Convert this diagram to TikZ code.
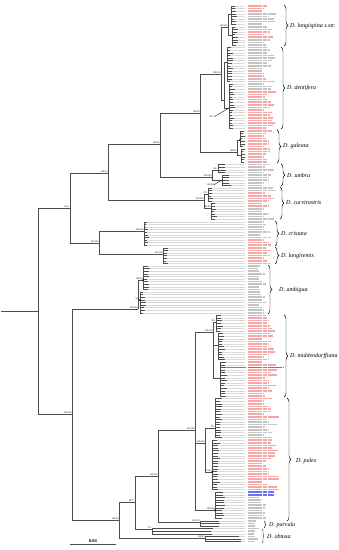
\documentclass[tikz,border=0pt]{standalone}
\usepackage{fontspec}
\setmainfont{Liberation Serif}
\usepackage{xcolor}
\usepackage{tikz}
\usetikzlibrary{decorations.pathreplacing}
\definecolor{Branch}{HTML}{4E4E4E}
\definecolor{TipRed}{HTML}{F5A6A6}
\definecolor{TipGrey}{HTML}{C4C4C4}
\definecolor{TipBlue}{HTML}{6A74E8}
\definecolor{Leader}{HTML}{DADADA}

% tips hanging from one internal node: parent, tip x, first row, last row, prefix
\newcommand{\tipset}[5]{%
  \foreach \tipk in {#3,...,#4}{%
    \pgfmathsetmacro{\tipy}{6+2.6*\tipk}%
    \pgfmathsetmacro{\tipx}{#2+3*rnd}%
    \coordinate (#5-\tipk) at (\tipx,\tipy);
    \draw[leader] (#5-\tipk) -- (245,\tipy);
    \draw[branch] (#1) |- (#5-\tipk);
  }}
% one bar per tip label: colour, first row, last row, base length, spread
\newcommand{\labelbars}[5]{%
  \foreach \lbk in {#2,...,#3}{%
    \pgfmathsetmacro{\lby}{6+2.6*\lbk}%
    \pgfmathsetmacro{\lbl}{#4+#5*rnd}%
    \draw[tiplabel, draw=#1] (248,\lby) -- ++(\lbl,0);
  }}

\begin{document}
\begin{tikzpicture}[
  x=1pt, y=-1pt,
  branch/.style={draw=Branch, line width=.42pt},
  leader/.style={draw=Leader, line width=.3pt},
  tiplabel/.style={line width=1.5pt, dash pattern=on 4.5pt off .6pt on 9pt off .6pt},
  pointer/.style={draw=black, line width=.35pt},
  support/.style={font=\fontsize{2.4}{2.7}\selectfont, inner sep=.3pt, anchor=south east},
  clade/.style={decorate, decoration={brace, amplitude=4pt}, draw=black, line width=.45pt},
  smallclade/.style={decorate, decoration={brace, amplitude=2pt}, draw=black, line width=.4pt},
  cladename/.style={font=\fontsize{6}{7}\selectfont\itshape, anchor=west, inner sep=0pt},
  dot/.style={circle, fill=black, inner sep=0pt, minimum size=1.7pt}
]
\pgfmathsetseed{2718}
\useasboundingbox (0,0) rectangle (339,550);

% Backbone nodes (x = depth, y = row where the stem enters).
\coordinate (root) at (1,311);
\coordinate (n38) at (38,311);
\coordinate (n70) at (70,208);
\coordinate (n108) at (108,173);
\coordinate (n160) at (160,144);
\coordinate (n200) at (200,113);
\coordinate (n221) at (221,74);
\coordinate (n99) at (99,243);
\coordinate (n72) at (72,414);
\coordinate (n119) at (119,520);
\coordinate (n135) at (135,502);
\coordinate (n158) at (158,476);
\coordinate (n195) at (195,430);

% Clade crowns.
\coordinate (lsp) at (228,27);  \coordinate (lspA) at (231,14);  \coordinate (lspB) at (232,35);
\coordinate (den) at (224,100); \coordinate (denA) at (227,62);  \coordinate (denB) at (229,108);
\coordinate (gal) at (237,152); \coordinate (galA) at (240,140); \coordinate (galB) at (241,155);
\coordinate (umb) at (212,177); \coordinate (umbA) at (218,170); \coordinate (umbB) at (222,180);
\coordinate (cur) at (204,200); \coordinate (curA) at (208,194); \coordinate (curB) at (211,208);
\coordinate (cri) at (144,231);
\coordinate (lgr) at (163,254);
\coordinate (amb) at (138,309); \coordinate (ambA) at (143,280); \coordinate (ambB) at (140,300);
\coordinate (mid) at (213,332); \coordinate (midA) at (216,322); \coordinate (midB) at (218,345);
\coordinate (midC) at (220,378);
\coordinate (pulA) at (205,443); \coordinate (pulAa) at (215,428); \coordinate (pulAb) at (212,472);
\coordinate (pulB) at (215,510);
\coordinate (parv) at (200,522);
\coordinate (obtA) at (152,529); \coordinate (obtB) at (205,538);

% Tips first, so the backbone sits on top of the leaders.
\tipset{lspA}{234}{0}{7}{t}
\tipset{lspB}{235}{8}{15}{t}
\tipset{denA}{230}{16}{29}{t}
\tipset{denB}{232}{30}{47}{t}
\tipset{galA}{242}{48}{54}{t}
\tipset{galB}{243}{55}{60}{t}
\tipset{umbA}{224}{61}{64}{t}
\tipset{umbB}{228}{65}{69}{t}
\tipset{curA}{211}{70}{75}{t}
\tipset{curB}{214}{76}{82}{t}
\tipset{cri}{146}{83}{92}{t}
\tipset{lgr}{165}{93}{99}{t}
\tipset{ambA}{147}{100}{109}{t}
\tipset{ambB}{143}{110}{118}{t}
\tipset{midA}{220}{119}{125}{t}
\tipset{midB}{222}{126}{136}{t}
\tipset{midC}{224}{137}{150}{t}
\tipset{pulAa}{219}{151}{166}{t}
\tipset{pulAb}{217}{167}{186}{t}
\tipset{pulB}{222}{187}{197}{t}
\tipset{parv}{218}{198}{200}{t}
\tipset{obtA}{210}{201}{203}{t}
\tipset{obtB}{238}{204}{206}{t}
\coordinate (blueend) at (246,367.4);
\draw[branch] (t-139) -- (blueend);

% Backbone.
\draw[branch] (root) -- (n38);
\draw[branch] (n38) |- (n70);   \draw[branch] (n38) |- (n72);
\draw[branch] (n70) |- (n108);  \draw[branch] (n70) |- (n99);
\draw[branch] (n108) |- (n160); \draw[branch] (n108) |- (cur);
\draw[branch] (n160) |- (n200); \draw[branch] (n160) |- (umb);
\draw[branch] (n200) |- (n221); \draw[branch] (n200) |- (gal);
\draw[branch] (n221) |- (lsp);  \draw[branch] (n221) |- (den);
\draw[branch] (lsp) |- (lspA);  \draw[branch] (lsp) |- (lspB);
\draw[branch] (den) |- (denA);  \draw[branch] (den) |- (denB);
\draw[branch] (gal) |- (galA);  \draw[branch] (gal) |- (galB);
\draw[branch] (umb) |- (umbA);  \draw[branch] (umb) |- (umbB);
\draw[branch] (cur) |- (curA);  \draw[branch] (cur) |- (curB);
\draw[branch] (n99) |- (cri);   \draw[branch] (n99) |- (lgr);
\draw[branch] (n72) |- (amb);   \draw[branch] (n72) |- (n119);
\draw[branch] (amb) |- (ambA);  \draw[branch] (amb) |- (ambB);
\draw[branch] (n119) |- (n135); \draw[branch] (n119) |- (obtB);
\draw[branch] (n135) |- (n158); \draw[branch] (n135) |- (obtA);
\draw[branch] (n158) |- (n195); \draw[branch] (n158) |- (parv);
\draw[branch] (n195) |- (mid);  \draw[branch] (n195) |- (pulA); \draw[branch] (n195) |- (pulB);
\draw[branch] (mid) |- (midA);  \draw[branch] (mid) |- (midB);  \draw[branch] (mid) |- (midC);
\draw[branch] (pulA) |- (pulAa); \draw[branch] (pulA) |- (pulAb);

% Support values (posterior / bootstrap).
\node[support] (s70) at (n70) {100/-};
\node[support] (s108) at (n108) {100/93};
\node[support] (s160) at (n160) {100/99};
\node[support] (s200) at (n200) {100/99};
\node[support] (s221) at (n221) {100/100};
\node[support] (slsp) at (lsp) {100/100};
\node[support] (sgal) at (gal) {100/96};
\node[support] (sumb) at (umb) {100/100};
\node[support] (sumbA) at (umbA) {96/-};
\node[support] (scur) at (cur) {100/100};
\node[support] (scurA) at (curA) {97/-};
\node[support] (scurB) at (curB) {100/99};
\node[support] (s99) at (n99) {100/100};
\node[support] (scri) at (cri) {100/100};
\node[support] (slgr) at (lgr) {100/100};
\node[support] (s72) at (n72) {100/100};
\node[support] (samb) at (amb) {100/100};
\node[support] (sambA) at (ambA) {100/99};
\node[support] (sambB) at (ambB) {96/-};
\node[support] (s119) at (n119) {100/99};
\node[support] (s135) at (n135) {94/77};
\node[support] (s158) at (n158) {100/100};
\node[support] (s195) at (n195) {100/100};
\node[support] (smid) at (mid) {100/100};
\node[support] (smidA) at (midA) {99/-};
\node[support] (spulA) at (pulA) {100/100};
\node[support] (spulAa) at (pulAa) {79/-};
\node[support] (spulAb) at (pulAb) {100/-};
\node[support] (spulB) at (pulB) {100/100};
\node[support] (sparv) at (parv) {100/100};
\node[support] (sobtA) at (obtA) {75/-};
\node[support] (sobtB) at (obtB) {100/95};
\node[support] (sden) at (214,118) {99/-};
\draw[pointer] (sden.east) -- (denB);
\node[support] (sumbB) at (214,186) {100/98};
\draw[pointer] (sumbB.east) -- (umbB);
\node[dot] (dambA) at (ambA) {};
\node[dot] (dambB) at (ambB) {};
\node[dot] (dpulAb) at (pulAb) {};
\node[dot] (dpulB) at (pulB) {};
\node[dot] (dgal) at (galA) {};

% Tip labels, coloured as printed.
\labelbars{TipRed}{0}{2}{14}{14}
\labelbars{TipGrey}{3}{9}{14}{14}
\labelbars{TipRed}{10}{12}{14}{14}
\labelbars{TipGrey}{13}{15}{14}{14}
\labelbars{TipGrey}{16}{24}{14}{14}
\labelbars{TipRed}{25}{27}{14}{14}
\labelbars{TipGrey}{28}{32}{14}{14}
\labelbars{TipRed}{33}{47}{14}{14}
\labelbars{TipRed}{48}{60}{14}{11}
\labelbars{TipGrey}{61}{69}{14}{14}
\labelbars{TipGrey}{70}{71}{14}{14}
\labelbars{TipRed}{72}{77}{14}{14}
\labelbars{TipGrey}{78}{82}{14}{14}
\labelbars{TipGrey}{83}{89}{12}{11}
\labelbars{TipRed}{90}{92}{12}{11}
\labelbars{TipRed}{93}{99}{14}{10}
\labelbars{TipGrey}{100}{118}{10}{8}
\labelbars{TipRed}{119}{138}{14}{16}
\labelbars{TipBlue}{139}{139}{36}{0}
\labelbars{TipRed}{140}{150}{14}{16}
\labelbars{TipRed}{151}{158}{14}{18}
\labelbars{TipGrey}{159}{166}{14}{18}
\labelbars{TipRed}{167}{186}{14}{18}
\labelbars{TipBlue}{187}{188}{24}{4}
\labelbars{TipGrey}{189}{197}{10}{10}
\labelbars{TipGrey}{198}{206}{6}{6}

% Clade brackets and names.
\draw[clade] (284,5) -- (284,46);
\node[cladename] (nlsp) at (290,26) {D. longispina s.str.};
\draw[clade] (281,47) -- (281,129);
\node[cladename] (nden) at (287,88) {D. dentifera};
\draw[clade] (277,130) -- (277,163);
\node[cladename] (ngal) at (283,146) {D. galeata};
\draw[clade] (281,164) -- (281,186);
\node[cladename] (numb) at (287,175) {D. umbra};
\draw[clade] (280,187) -- (280,219);
\node[cladename] (ncur) at (286,203) {D. curvirostris};
\draw[clade] (275,221) -- (275,246);
\node[cladename] (ncri) at (281,234) {D. cristata};
\draw[clade] (275,247) -- (275,264);
\node[cladename] (nlgr) at (281,256) {D. longiremis};
\draw[clade] (268,265) -- (268,314);
\node[cladename] (namb) at (279,290) {D. ambigua};
\draw[clade] (284,315) -- (284,397);
\node[cladename] (nmid) at (290,356) {D. middendorffiana};
\draw[clade] (287,398) -- (287,521);
\node[cladename] (npul) at (296,461) {D. pulex};
\draw[smallclade] (264,521) -- (264,528);
\node[cladename] (nparv) at (269,525) {D. parvula};
\draw[smallclade] (262,529) -- (262,543);
\node[cladename] (nobt) at (267,536) {D. obtusa};

% Scale bar.
\coordinate (sbL) at (70,544);
\coordinate (sbR) at (116,544);
\draw[branch, line width=.9pt] (sbL) -- node[above, font=\fontsize{4.5}{5}\selectfont\bfseries, inner sep=1pt] (sblabel) {0.04} (sbR);
\end{tikzpicture}
\end{document}
